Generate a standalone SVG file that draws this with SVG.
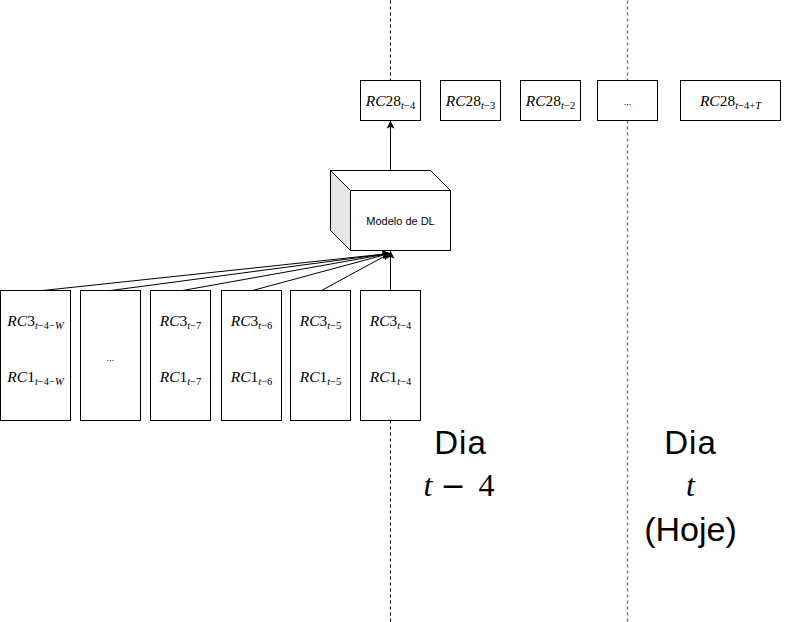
<svg xmlns="http://www.w3.org/2000/svg" width="801" height="622" viewBox="0 0 801 622">
<defs>
<style>
.box{fill:#fff;stroke:#000;stroke-width:1}
.m{font-family:"Liberation Serif",serif;font-size:15.5px;fill:#000}
.i{font-style:italic}
.sub{font-size:10.5px}
.sans{font-family:"Liberation Sans",Arial,sans-serif;fill:#000}
.conn{stroke:#000;stroke-width:1;fill:none}
</style>
<marker id="ah" viewBox="0 0 10 10" refX="9" refY="5" markerWidth="9" markerHeight="8" orient="auto" markerUnits="userSpaceOnUse">
<path d="M0,0 L10,5 L0,10 L2.5,5 Z" fill="#000"/>
</marker>
</defs>
<rect width="801" height="622" fill="#fff"/>
<g transform="translate(0.5,0.5)">
<g id="timelines">
<line x1="390" y1="0" x2="390" y2="622" stroke="#000" stroke-width="1" stroke-dasharray="3 3"/>
<line x1="627" y1="0" x2="627" y2="622" stroke="#777" stroke-width="1.5" stroke-dasharray="3 3"/>
</g>
<g id="connectors">
<line class="conn" x1="42" y1="290" x2="389" y2="253" marker-end="url(#ah)"/>
<line class="conn" x1="110" y1="290" x2="389" y2="253" marker-end="url(#ah)"/>
<line class="conn" x1="182" y1="290" x2="389" y2="253" marker-end="url(#ah)"/>
<line class="conn" x1="252" y1="290" x2="389" y2="253" marker-end="url(#ah)"/>
<line class="conn" x1="321" y1="290" x2="389" y2="253" marker-end="url(#ah)"/>
<line class="conn" x1="390" y1="290" x2="390" y2="251" marker-end="url(#ah)"/>
<line class="conn" x1="390" y1="170" x2="390" y2="121" marker-end="url(#ah)"/>
</g>
<g id="out1"><rect class="box" x="360" y="80" width="60" height="40"/><text class="m" x="390" y="105" text-anchor="middle"><tspan class="i">RC</tspan>28<tspan class="sub" dy="3"><tspan class="i">t</tspan>−4</tspan></text></g>
<g id="out2"><rect class="box" x="440" y="80" width="60" height="40"/><text class="m" x="470" y="105" text-anchor="middle"><tspan class="i">RC</tspan>28<tspan class="sub" dy="3"><tspan class="i">t</tspan>−3</tspan></text></g>
<g id="out3"><rect class="box" x="520" y="80" width="60" height="40"/><text class="m" x="550" y="105" text-anchor="middle"><tspan class="i">RC</tspan>28<tspan class="sub" dy="3"><tspan class="i">t</tspan>−2</tspan></text></g>
<g id="out4"><rect class="box" x="597" y="80" width="60" height="40"/><text class="sans" x="627" y="104" font-size="9" text-anchor="middle">...</text></g>
<g id="out5"><rect class="box" x="680" y="80" width="100" height="40"/><text class="m" x="730" y="105" text-anchor="middle"><tspan class="i">RC</tspan>28<tspan class="sub" dy="3"><tspan class="i">t</tspan>−4+<tspan class="i">T</tspan></tspan></text></g>
<g id="model">
<path d="M330,170 L430,170 L450,190 L350,190 Z" fill="#fff" stroke="#000"/>
<path d="M330,170 L350,190 L350,250 L330,230 Z" fill="#e6e6e6" stroke="#000"/>
<rect class="box" x="350" y="190" width="100" height="60"/>
<text class="sans" x="400" y="224" font-size="11" text-anchor="middle">Modelo de DL</text>
</g>
<g id="in1"><rect class="box" x="0" y="290" width="70" height="130"/><text class="m" x="35" y="325" text-anchor="middle"><tspan class="i">RC</tspan>3<tspan class="sub" dy="3"><tspan class="i">t</tspan>−4−<tspan class="i">W</tspan></tspan></text><text class="m" x="35" y="381" text-anchor="middle"><tspan class="i">RC</tspan>1<tspan class="sub" dy="3"><tspan class="i">t</tspan>−4−<tspan class="i">W</tspan></tspan></text></g>
<g id="in2"><rect class="box" x="80" y="290" width="60" height="130"/><text class="sans" x="110" y="360" font-size="9" text-anchor="middle">...</text></g>
<g id="in3"><rect class="box" x="150" y="290" width="60" height="130"/><text class="m" x="180" y="325" text-anchor="middle"><tspan class="i">RC</tspan>3<tspan class="sub" dy="3"><tspan class="i">t</tspan>−7</tspan></text><text class="m" x="180" y="381" text-anchor="middle"><tspan class="i">RC</tspan>1<tspan class="sub" dy="3"><tspan class="i">t</tspan>−7</tspan></text></g>
<g id="in4"><rect class="box" x="221" y="290" width="60" height="130"/><text class="m" x="251" y="325" text-anchor="middle"><tspan class="i">RC</tspan>3<tspan class="sub" dy="3"><tspan class="i">t</tspan>−6</tspan></text><text class="m" x="251" y="381" text-anchor="middle"><tspan class="i">RC</tspan>1<tspan class="sub" dy="3"><tspan class="i">t</tspan>−6</tspan></text></g>
<g id="in5"><rect class="box" x="290" y="290" width="60" height="130"/><text class="m" x="320" y="325" text-anchor="middle"><tspan class="i">RC</tspan>3<tspan class="sub" dy="3"><tspan class="i">t</tspan>−5</tspan></text><text class="m" x="320" y="381" text-anchor="middle"><tspan class="i">RC</tspan>1<tspan class="sub" dy="3"><tspan class="i">t</tspan>−5</tspan></text></g>
<g id="in6"><rect class="box" x="360" y="290" width="60" height="130"/><text class="m" x="390" y="325" text-anchor="middle"><tspan class="i">RC</tspan>3<tspan class="sub" dy="3"><tspan class="i">t</tspan>−4</tspan></text><text class="m" x="390" y="381" text-anchor="middle"><tspan class="i">RC</tspan>1<tspan class="sub" dy="3"><tspan class="i">t</tspan>−4</tspan></text></g>
<g id="labels">
<text class="sans" x="460" y="453" font-size="33" letter-spacing="1" text-anchor="middle">Dia</text>
<text font-family="Liberation Serif,serif" font-size="32" y="495"><tspan x="423" font-style="italic">t</tspan><tspan x="440" font-family="DejaVu Serif,serif" font-size="30">−</tspan><tspan x="478">4</tspan></text>
<text class="sans" x="690" y="453" font-size="33" letter-spacing="1" text-anchor="middle">Dia</text>
<text x="690" y="495" font-family="Liberation Serif,serif" font-size="32" font-style="italic" text-anchor="middle">t</text>
<text class="sans" x="690" y="540" font-size="34" text-anchor="middle">(Hoje)</text>
</g>
</g>
</svg>
